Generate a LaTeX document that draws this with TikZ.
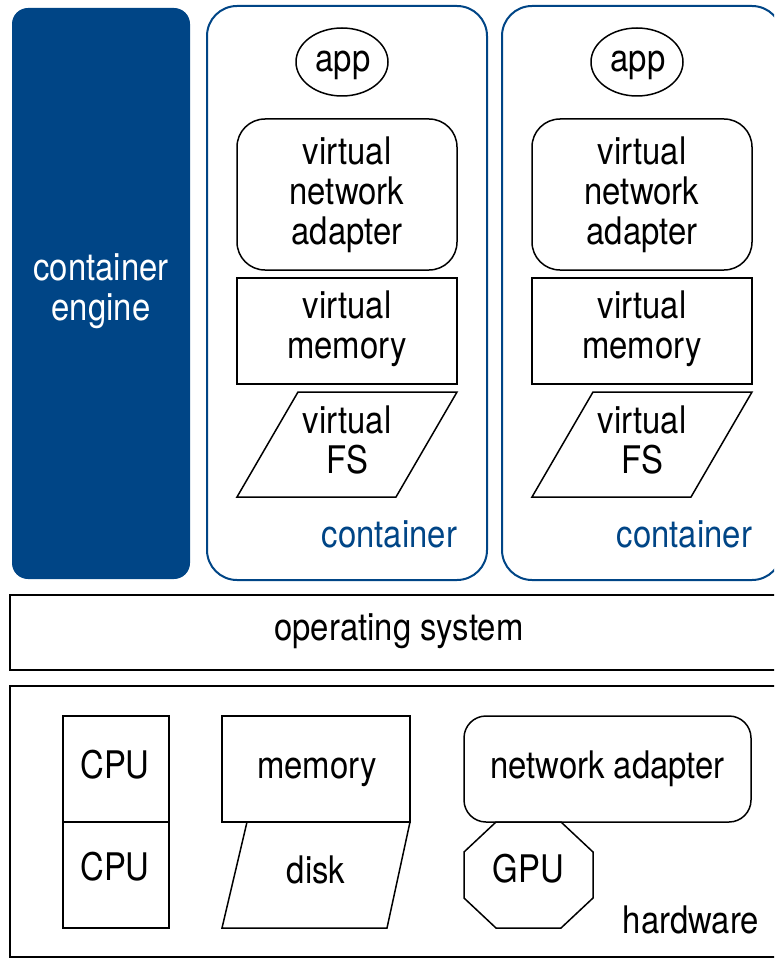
\documentclass[tikz,border=0pt]{standalone}
\usepackage{fontspec}
\setmainfont{TeX Gyre Heros}[FakeStretch=0.865]
\usetikzlibrary{shapes.geometric}
\definecolor{engblue}{HTML}{004586}
\newcommand\lblfont{\fontsize{38}{40}\selectfont}

\begin{document}
\begin{tikzpicture}[x=1pt,y=-1pt,
  every node/.style={font=\lblfont, align=center, inner sep=0pt, outer sep=0pt},
  blk/.style={draw=black, line width=1.5pt},
  outline/.style={draw=black, line width=1.5pt, line join=miter},
  engine/.style={fill=engblue, rounded corners=16pt, text=white},
  cont/.style={draw=engblue, line width=2pt, rounded corners=30pt},
  contlabel/.style={text=engblue, anchor=base east},
  word/.style={anchor=base},
  plain/.style={anchor=base east}]

\clip (0,0) rectangle (774,960);

% container engine column
\fill[engine] (12,8) rectangle (190,579);
\node[text=white] (engine) at (101,291) {container\\engine};

% the two containers
\foreach \dx/\n in {0/1, 295/2}{
  \begin{scope}[xshift=\dx]
    \draw[cont] (207,6) rectangle (487,580);
    \node[contlabel] (clabel\n) at (457,547) {container};
    \node[draw=black, line width=1.5pt, ellipse, minimum width=92, minimum height=68] (app\n) at (342,62) {};
    \node[word] (apptext\n) at (343,72) {app};
    \node[blk, rounded corners=28pt, minimum width=220, minimum height=151] (vnet\n) at (347,194.5) {virtual\\network\\adapter};
    \node[blk, minimum width=220, minimum height=106] (vmembox\n) at (347,331) {};
    \node (vmem\n) at (347,328.5) {virtual\\memory};
    \coordinate (fsA\n) at (298,392);
    \coordinate (fsB\n) at (457,392);
    \coordinate (fsC\n) at (396,497);
    \coordinate (fsD\n) at (237,497);
    \draw[outline] (fsA\n) -- (fsB\n) -- (fsC\n) -- (fsD\n) -- cycle;
    \node (vfs\n) at (347,440) {virtual\\FS};
  \end{scope}
}

% operating system layer
\node[blk, minimum width=772, minimum height=75] (os) at (396,632.5) {};
\node[word] (oslabel) at (399,640) {operating system};

% hardware layer
\draw[blk] (10,686) rectangle (782,957);
\node[plain] (hw) at (759,933) {hardware};

\node[blk, minimum width=106, minimum height=106] (cpu1) at (116,769) {};
\node[blk, minimum width=106, minimum height=106] (cpu2) at (116,875) {};
\node[word] (cpu1text) at (115,778) {CPU};
\node[word] (cpu2text) at (115,880) {CPU};

\node[blk, minimum width=188, minimum height=106] (mem) at (316,769) {};
\node[word] (memtext) at (317,778) {memory};

\coordinate (dA) at (247,822);
\coordinate (dB) at (410,822);
\coordinate (dC) at (387,928);
\coordinate (dD) at (222,928);
\draw[outline] (dA) -- (dB) -- (dC) -- (dD) -- cycle;
\node[word] (disk) at (316,883) {disk};

\node[blk, rounded corners=22pt, minimum width=287, minimum height=106] (nic) at (607.5,769) {};
\node[word] (nictext) at (607.5,778) {network adapter};

\draw[outline] (496,822) -- (561,822) -- (593,852) -- (593,898) -- (561,928)
  -- (496,928) -- (464,898) -- (464,852) -- cycle;
\node[word] (gpu) at (528.5,882) {GPU};
\end{tikzpicture}
\end{document}
